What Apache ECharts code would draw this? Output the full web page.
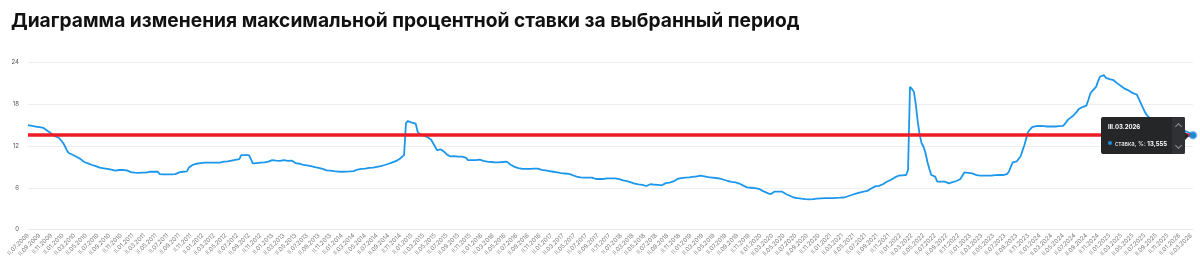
<!DOCTYPE html>
<html>
<head>
<meta charset="utf-8">
<script src="https://cdn.jsdelivr.net/npm/echarts@6/dist/echarts.min.js"></script>
<style>
html,body{margin:0;padding:0;background:#fff;}
#chart{width:1200px;height:271px;}
</style>
</head>
<body>
<div id="chart"></div>
<script>
// Title
const chartTitle = 'Диаграмма изменения максимальной процентной ставки за выбранный период';
const seriesName = 'ставка, %';

// Category labels: decades (I, II, III) of each month, from II.07.2009 to III.03.2026
const decadeNames = ['I', 'II', 'III'];
const startYear = 2009;
const startMonth = 7;     // July
const startDecade = 1;    // index of 'II'
const pointCount = 602;
const categories = [];
for (let i = 0; i < pointCount; i++) {
  const d = startDecade + i;
  const mOff = Math.floor(d / 3);
  const mAbs = (startMonth - 1) + mOff;
  const y = startYear + Math.floor(mAbs / 12);
  const m = (mAbs % 12) + 1;
  categories.push(decadeNames[d % 3] + '.' + String(m).padStart(2, '0') + '.' + y);
}

// Y axis ticks
const yMin = 0, yMax = 24, yStep = 6;

// Max rate values per decade
const rateValues = [
  15.0,14.95,14.9,14.85,14.8,14.8,14.7,14.65,14.6,14.4,
  14.2,14.0,13.8,13.6,13.4,13.3,13.15,13.0,12.5,12.0,
  11.4,11.0,10.9,10.75,10.6,10.45,10.3,10.15,9.95,9.7,
  9.6,9.5,9.35,9.27,9.2,9.1,9.0,8.9,8.8,8.8,
  8.75,8.7,8.65,8.6,8.45,8.45,8.5,8.55,8.55,8.55,
  8.55,8.5,8.4,8.25,8.16,8.16,8.15,8.15,8.16,8.16,
  8.16,8.16,8.25,8.3,8.3,8.3,8.3,8.3,7.95,7.93,
  7.93,7.93,7.93,7.93,7.93,7.95,7.95,8.05,8.2,8.25,
  8.3,8.3,8.35,8.9,9.1,9.3,9.4,9.45,9.5,9.55,
  9.6,9.6,9.6,9.62,9.6,9.6,9.62,9.6,9.6,9.6,
  9.7,9.75,9.75,9.8,9.84,9.9,9.98,10.0,10.05,10.1,
  10.7,10.7,10.7,10.7,10.7,10.7,9.5,9.5,9.55,9.6,
  9.6,9.65,9.65,9.7,9.75,9.85,9.98,9.95,9.9,9.85,
  9.85,9.95,9.98,9.75,9.85,9.98,9.9,9.7,9.55,9.5,
  9.45,9.35,9.3,9.25,9.2,9.15,9.1,9.05,8.95,8.9,
  8.85,8.8,8.7,8.6,8.5,8.5,8.45,8.4,8.38,8.35,
  8.32,8.3,8.3,8.3,8.32,8.33,8.35,8.35,8.4,8.5,
  8.62,8.65,8.7,8.72,8.75,8.8,8.85,8.88,8.9,8.95,
  9.0,9.05,9.1,9.17,9.27,9.35,9.45,9.55,9.65,9.74,
  9.85,10.0,10.2,10.4,10.7,15.3,15.6,15.5,15.35,15.25,
  15.2,14.05,13.7,13.6,13.5,13.4,13.3,13.1,12.9,12.7,
  11.9,11.4,11.55,11.5,11.4,11.1,10.8,10.65,10.5,10.7,
  10.55,10.46,10.46,10.46,10.46,10.46,10.3,9.98,9.98,9.98,
  9.98,9.98,10.02,10.05,9.95,9.85,9.76,9.74,9.72,9.7,
  9.68,9.66,9.65,9.65,9.68,9.7,9.73,9.75,9.5,9.3,
  9.15,9.0,8.88,8.82,8.75,8.7,8.7,8.7,8.7,8.7,
  8.7,8.75,8.8,8.75,8.65,8.58,8.55,8.5,8.45,8.4,
  8.35,8.3,8.25,8.2,8.15,8.1,8.07,8.05,8.02,7.98,
  7.95,7.8,7.65,7.59,7.55,7.5,7.45,7.45,7.45,7.45,
  7.45,7.45,7.35,7.26,7.26,7.26,7.26,7.26,7.26,7.35,
  7.35,7.35,7.35,7.35,7.35,7.25,7.15,7.05,7.0,6.95,
  6.85,6.78,6.72,6.6,6.52,6.5,6.45,6.42,6.4,6.25,
  6.1,6.5,6.48,6.45,6.42,6.4,6.38,6.35,6.55,6.66,
  6.7,6.75,6.78,6.9,7.1,7.26,7.3,7.38,7.42,7.45,
  7.48,7.5,7.53,7.56,7.59,7.62,7.68,7.73,7.7,7.65,
  7.58,7.54,7.5,7.47,7.44,7.4,7.35,7.3,7.22,7.15,
  7.05,6.97,6.9,6.85,6.8,6.76,6.72,6.6,6.45,6.3,
  6.15,6.06,6.03,6.0,5.97,5.94,5.92,5.85,5.7,5.55,
  5.43,5.3,5.15,5.06,5.3,5.43,5.43,5.43,5.43,5.43,
  5.3,5.1,4.96,4.85,4.72,4.6,4.55,4.5,4.48,4.43,
  4.39,4.37,4.35,4.34,4.34,4.36,4.4,4.45,4.48,4.48,
  4.48,4.5,4.5,4.5,4.52,4.52,4.55,4.55,4.56,4.57,
  4.57,4.6,4.68,4.78,4.88,4.96,5.05,5.15,5.25,5.3,
  5.38,5.45,5.5,5.55,5.7,5.9,6.15,6.2,6.25,6.28,
  6.35,6.5,6.7,6.87,7.0,7.12,7.26,7.45,7.6,7.73,
  7.75,7.78,7.8,7.83,8.55,20.5,20.2,19.8,18.0,15.5,
  13.6,12.4,11.9,11.0,9.7,8.7,7.83,7.75,7.6,6.9,
  6.87,6.87,6.87,6.87,6.8,6.64,6.7,6.8,6.9,6.97,
  7.1,7.25,7.45,8.2,8.2,8.15,8.1,8.07,8.0,7.85,
  7.73,7.73,7.73,7.73,7.73,7.73,7.73,7.75,7.78,7.8,
  7.82,7.85,7.83,7.83,7.83,7.95,8.3,9.0,9.65,9.7,
  9.78,9.84,10.5,11.3,12.1,13.1,14.05,14.4,14.7,14.8,
  14.85,14.9,14.9,14.9,14.85,14.8,14.8,14.8,14.8,14.8,
  14.8,14.82,14.85,14.88,14.9,15.2,15.6,15.9,16.1,16.3,
  16.45,16.9,17.3,17.5,17.6,17.7,17.8,18.6,19.5,19.9,
  20.2,20.5,21.3,21.95,22.15,22.2,21.8,21.7,21.6,21.55,
  21.45,21.3,21.0,20.75,20.6,20.4,20.2,20.05,19.95,19.8,
  19.6,19.5,19.4,18.8,18.2,17.6,17.0,16.5,16.2,15.9,
  15.7,15.5,15.35,15.2,15.1,15.0,14.9,14.8,14.72,14.65,
  14.6,14.55,14.5,14.45,14.4,14.35,14.25,14.15,14.05,13.9,
  13.75,13.555
];

const lastIndex = rateValues.length - 1;
const lastValue = rateValues[lastIndex];
const FONT = 'Inter, "Noto Sans", sans-serif';

const chart = echarts.init(document.getElementById('chart'), null, { renderer: 'canvas' });

function fmt(v) { return String(v).replace('.', ','); }

const option = {
  animation: false,
  backgroundColor: '#ffffff',
  title: {
    text: chartTitle,
    left: 6,
    top: 7,
    textStyle: { fontFamily: FONT, fontSize: 19.2, fontWeight: 700, color: '#111111' }
  },
  grid: { left: 28, right: 7, top: 62.5, bottom: 41.5, containLabel: false },
  tooltip: {
    trigger: 'axis',
    alwaysShowContent: true,
    axisPointer: { type: 'none' },
    backgroundColor: 'transparent',
    borderWidth: 0,
    padding: 0,
    extraCssText: 'box-shadow:none;',
    position: function (point, params, dom, rect, size) {
      return [point[0] - size.contentSize[0] - 8, point[1] - size.contentSize[1] / 2];
    },
    formatter: function (params) {
      const p = params[0];
      return '<div style="position:relative;display:flex;width:84px;height:37px;background:#252628;border-radius:2px;font-family:' + FONT.replace(/"/g, "'") + ';color:#fff;">' +
        '<div style="flex:1;padding:6px 0 0 7px;">' +
          '<div style="font-size:6px;font-weight:700;line-height:8px;">' + p.name + '</div>' +
          '<div style="font-size:6px;line-height:8px;margin-top:9px;white-space:nowrap;">' +
            '<span style="display:inline-block;width:4px;height:4px;border-radius:2px;background:#1f8fe0;margin-right:3px;vertical-align:1px;"></span>' +
            p.seriesName + ': <b>' + fmt(p.value) + '</b></div>' +
        '</div>' +
        '<div style="width:13px;background:#303134;position:relative;border-radius:0 2px 2px 0;">' +
          '<div style="position:absolute;left:4px;top:7px;width:4px;height:4px;border-left:1px solid #8a8c90;border-top:1px solid #8a8c90;transform:rotate(45deg);"></div>' +
          '<div style="position:absolute;left:4px;top:26px;width:4px;height:4px;border-right:1px solid #8a8c90;border-bottom:1px solid #8a8c90;transform:rotate(45deg);"></div>' +
        '</div>' +
        '<div style="position:absolute;right:-4px;top:15px;width:0;height:0;border-top:4px solid transparent;border-bottom:4px solid transparent;border-left:4px solid #252628;"></div>' +
      '</div>';
    }
  },
  xAxis: {
    type: 'category',
    data: categories,
    boundaryGap: false,
    axisLine: { show: true, lineStyle: { color: '#e6e9ed', width: 1 } },
    axisTick: { show: false },
    axisLabel: {
      interval: 5,
      rotate: 45,
      fontSize: 6,
      margin: 5,
      color: '#7a7a7a',
      fontFamily: FONT
    },
    splitLine: { show: false }
  },
  yAxis: {
    type: 'value',
    min: yMin,
    max: yMax,
    interval: yStep,
    axisLine: { show: false },
    axisTick: { show: false },
    axisLabel: { fontSize: 6, color: '#555555', margin: 9, fontFamily: FONT },
    splitLine: { lineStyle: { color: '#eceff2', width: 1 } }
  },
  series: [{
    name: seriesName,
    type: 'line',
    data: rateValues,
    showSymbol: false,
    symbol: 'circle',
    symbolSize: 5,
    lineStyle: { color: '#1a8ad6', width: 1.8 },
    itemStyle: { color: '#1a8ad6' },
    emphasis: { scale: false, itemStyle: { color: '#1a8ad6', borderColor: 'rgba(26,138,214,0.35)', borderWidth: 3 } },
    markLine: {
      silent: true,
      symbol: 'none',
      label: { show: false },
      lineStyle: { color: '#ee1c25', width: 3.5, type: 'solid' },
      data: [{ yAxis: lastValue }]
    },
    markPoint: {
      silent: true,
      symbol: 'circle',
      symbolSize: 6,
      itemStyle: { color: '#1a8ad6', borderColor: 'rgba(26,138,214,0.35)', borderWidth: 3 },
      label: { show: false },
      data: [{ coord: [categories[lastIndex], lastValue] }]
    }
  }]
};

chart.setOption(option);
chart.dispatchAction({ type: 'showTip', seriesIndex: 0, dataIndex: lastIndex });
</script>
</body>
</html>
